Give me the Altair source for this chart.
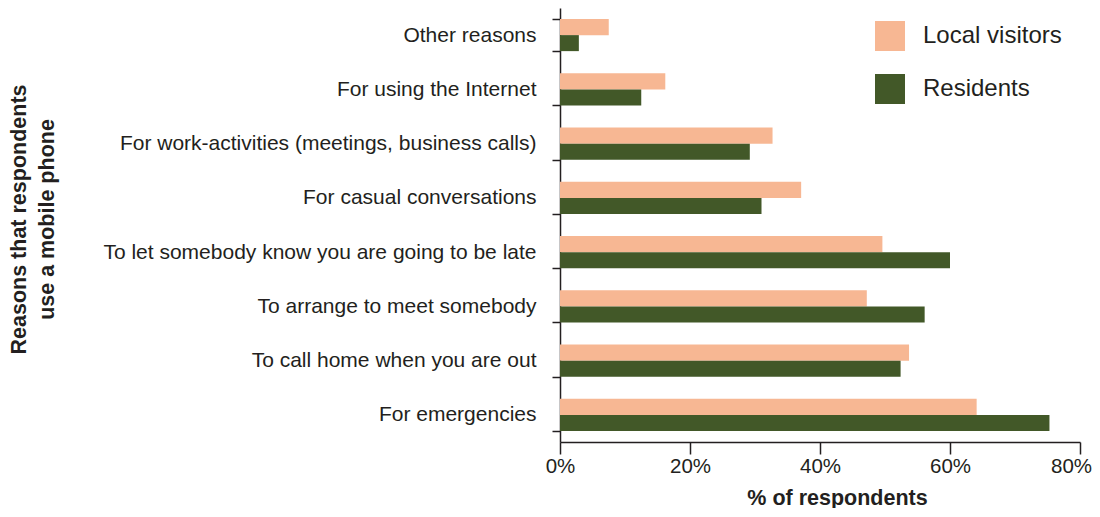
import altair as alt
import pandas as pd

reasons = [
    "Other reasons",
    "For using the Internet",
    "For work-activities (meetings, business calls)",
    "For casual conversations",
    "To let somebody know you are going to be late",
    "To arrange to meet somebody",
    "To call home when you are out",
    "For emergencies",
]
groups = ["Local visitors", "Residents"]
local_visitors = [7.5, 16.2, 32.7, 37.1, 49.6, 47.2, 53.7, 64.1]
residents = [2.9, 12.5, 29.2, 31.0, 60.0, 56.1, 52.4, 75.3]
colors = ["#F7B793", "#425828"]
x_ticks = [0, 20, 40, 60, 80]

rows = []
for r, a, b in zip(reasons, local_visitors, residents):
    rows.append({"reason": r, "group": groups[0], "value": a})
    rows.append({"reason": r, "group": groups[1], "value": b})
df = pd.DataFrame(rows)

FONT = "Liberation Sans"
INK = "#231F20"

chart = alt.Chart(df).mark_bar().encode(
    x=alt.X(
        "value:Q",
        scale=alt.Scale(domain=[0, 80], nice=False),
        axis=alt.Axis(
            values=x_ticks,
            labelExpr="datum.value + '%'",
            labelFlush=False,
            labelOffset={"condition": {"test": "datum.value == 80", "value": -9}, "value": 0},
            title="% of respondents",
            titleX=277,
            titleY=45,
            titleBaseline="top",
            titleFontSize=21.5,
            titleFontWeight="bold",
            labelFontSize=20.5,
            labelPadding=2,
            tickSize=12,
            grid=False,
        ),
    ),
    y=alt.Y(
        "reason:N",
        sort=reasons,
        scale=alt.Scale(paddingInner=0.41, paddingOuter=0.205),
        axis=alt.Axis(
            title=["Reasons that respondents", "use a mobile phone"],
            titleAngle=-90,
            titleX=-552,
            titleY=211,
            titleBaseline="top",
            titleAlign="center",
            titleFontSize=21.5,
            titleFontWeight="bold",
            titleLineHeight=28,
            labelFontSize=21,
            labelPadding=16,
            labelLimit=600,
            tickSize=8,
            tickBand="extent",
            grid=False,
        ),
    ),
    yOffset=alt.YOffset("group:N", sort=groups),
    color=alt.Color(
        "group:N",
        sort=groups,
        scale=alt.Scale(domain=groups, range=colors),
        legend=alt.Legend(
            title=None,
            orient="none",
            legendX=315,
            legendY=13,
            symbolType="square",
            symbolSize=900,
            symbolStrokeWidth=0,
            labelFontSize=24,
            labelOffset=18,
            rowPadding=23,
            padding=0,
        ),
    ),
).properties(
    width=520,
    height=434,
    autosize="none",
    padding={"left": 552, "top": 0, "right": 12, "bottom": 66},
).configure_view(
    stroke=None
).configure_axis(
    domainColor=INK,
    domainWidth=1.5,
    tickColor=INK,
    tickWidth=1.5,
    labelColor=INK,
    titleColor=INK,
    labelFont=FONT,
    titleFont=FONT,
).configure_legend(
    labelFont=FONT,
    labelColor=INK,
)

chart.save("out.html", embed_options={"renderer": "svg", "actions": False})
